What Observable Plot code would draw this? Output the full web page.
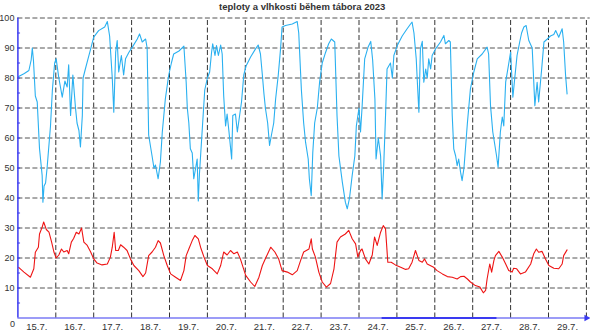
<!DOCTYPE html>
<html><head><meta charset="utf-8">
<script src="https://cdn.jsdelivr.net/npm/d3@7"></script>
<script src="https://cdn.jsdelivr.net/npm/@observablehq/plot@0.6"></script>
<style>body{margin:0;background:#fff} #chart svg{display:block}</style>
</head><body><div id="chart"></div>
<script>
const title = "teploty a vlhkosti během tábora 2023";
const dayLabels = ["15.7.","16.7.","17.7.","18.7.","19.7.","20.7.","21.7.","22.7.","23.7.","24.7.","25.7.","26.7.","27.7.","28.7.","29.7."];
const dayTicks = [15.5,16.5,17.5,18.5,19.5,20.5,21.5,22.5,23.5,24.5,25.5,26.5,27.5,28.5,29.5];
const gridDays = [16,17,18,19,20,21,22,23,24,25,26,27,28,29,30];
const gridValues = [10,20,30,40,50,60,70,80,90,100];
const yLabels = [10,20,30,40,50,60,70,80,90,100];
const minorTicks = [5,10,15,20,25,30,35,40,45,50,55,60,65,70,75,80,85,90,95];
const zeroSegment = [24.61, 27.64];

// relative humidity (%) — time in days of July
const humTime = [15.02,15.17,15.29,15.35,15.38,15.41,15.46,15.51,15.57,15.64,15.66,15.69,15.73,15.77,15.86,15.91,15.97,16.01,16.08,16.17,16.24,16.30,16.34,16.39,16.45,16.52,16.56,16.61,16.65,16.70,16.72,16.78,16.85,16.92,17.00,17.13,17.29,17.36,17.42,17.49,17.53,17.58,17.62,17.66,17.73,17.79,17.84,17.93,18.02,18.15,18.21,18.28,18.37,18.41,18.45,18.54,18.59,18.63,18.70,18.76,18.81,18.89,18.98,19.05,19.11,19.25,19.38,19.44,19.47,19.51,19.55,19.60,19.64,19.69,19.73,19.76,19.79,19.86,19.93,20.00,20.06,20.11,20.14,20.20,20.24,20.29,20.35,20.39,20.43,20.48,20.52,20.57,20.64,20.67,20.74,20.79,20.85,20.90,20.96,21.02,21.14,21.27,21.34,21.40,21.45,21.49,21.53,21.59,21.64,21.69,21.75,21.80,21.87,21.93,21.97,22.06,22.24,22.37,22.41,22.48,22.54,22.59,22.66,22.69,22.74,22.78,22.83,22.90,22.96,23.03,23.12,23.20,23.27,23.36,23.42,23.47,23.56,23.64,23.69,23.75,23.82,23.89,23.93,24.00,24.04,24.08,24.15,24.24,24.31,24.36,24.42,24.45,24.51,24.57,24.61,24.65,24.70,24.74,24.83,24.88,24.92,25.01,25.14,25.27,25.36,25.40,25.45,25.51,25.54,25.58,25.62,25.67,25.71,25.76,25.80,25.84,25.89,25.93,26.02,26.15,26.24,26.28,26.37,26.41,26.46,26.50,26.55,26.59,26.63,26.68,26.72,26.77,26.86,26.94,27.03,27.12,27.25,27.38,27.42,27.47,27.53,27.58,27.63,27.67,27.73,27.78,27.82,27.87,27.94,28.00,28.06,28.11,28.17,28.24,28.29,28.35,28.41,28.48,28.57,28.64,28.70,28.74,28.82,28.88,28.97,29.05,29.14,29.19,29.27,29.36,29.40,29.45,29.49];
const humValue = [80.5,81.5,82.5,86,90,86,74,72,56.5,47.5,38.6,44,45,50,64,76,85,86.4,80,73.6,79,77,84.4,67.5,81,70,65,62.5,57,67.5,80,83,86.4,89.7,93.6,95.8,97,98.8,94,80,68.6,88.6,92.5,82,87.5,81,86.4,88.6,90.3,93,94.7,92,93,90,61,54,50,51,46.4,52,62,73,81,85,88,89,90.6,78.6,70,65,56.4,55,46.4,50,53,39,48,62,76,80,82,88.6,91.4,87.5,90.8,87.5,91,88,74,64,68,62,53,67.5,68,62,67.5,72,81,84,87,89.7,91,88,81,75,70,65,57.5,61,65,73,81,89.7,97,97.5,98,98.8,95,76,65,58.6,53,46.4,40.8,55,65,70,78.6,85,88.6,91.4,93,92,67.5,54,45.3,38.6,36.4,40,47.5,54,64,70,62,70,86.4,90.3,92.2,86,73,53,60,54,39.7,50,67.5,83,85,80,87.5,90.8,94,96.4,98,98.6,95,86.4,78.6,68.6,89.7,92.2,78.6,83,80,86.4,83,87.5,89.7,92,94.2,91.4,92.5,92,67.5,56.4,54,50.8,53,48.6,45.8,50,65,76.4,82,86.4,88,90.3,88,70.8,62,58,54,50.3,62,67,64,78.6,84,88.6,73.6,80,87.5,92,95,97,97.5,92.5,90,70.8,78.6,72,83,92,93,94,94.5,95.8,93.6,96.4,92,81,74.7];

// temperature (°C)
const tempTime = [15.02,15.16,15.33,15.42,15.46,15.54,15.57,15.64,15.68,15.75,15.82,15.89,15.95,16.01,16.08,16.15,16.21,16.30,16.34,16.41,16.47,16.54,16.61,16.68,16.74,16.83,16.92,17.00,17.09,17.22,17.36,17.44,17.49,17.54,17.58,17.65,17.71,17.79,17.88,17.97,18.06,18.19,18.30,18.37,18.45,18.54,18.63,18.70,18.76,18.85,18.94,19.03,19.16,19.29,19.38,19.44,19.51,19.60,19.67,19.76,19.82,19.91,20.00,20.13,20.26,20.35,20.43,20.52,20.61,20.70,20.79,20.87,21.01,21.14,21.25,21.36,21.45,21.55,21.67,21.78,21.88,21.97,22.11,22.24,22.37,22.46,22.54,22.68,22.74,22.77,22.85,22.94,23.03,23.14,23.25,23.34,23.42,23.51,23.64,23.73,23.82,23.91,23.97,24.04,24.08,24.17,24.26,24.35,24.41,24.48,24.57,24.64,24.70,24.76,24.85,24.96,25.10,25.23,25.31,25.40,25.49,25.58,25.67,25.73,25.80,25.97,26.06,26.20,26.33,26.46,26.59,26.68,26.77,26.86,26.94,27.07,27.19,27.28,27.34,27.38,27.45,27.50,27.56,27.60,27.69,27.78,27.87,27.95,28.04,28.08,28.16,28.26,28.39,28.53,28.61,28.68,28.74,28.83,28.92,29.01,29.14,29.27,29.36,29.40,29.49];
const tempValue = [16.9,15.3,13.6,16.4,21.9,23.6,28,30.3,32,29.5,28.6,25.3,22,20,21,23,22,22.5,21.4,25.3,26.5,28.6,28,30,25.3,24.2,22,19.7,18.3,17.7,18,20.3,23.6,28.6,22.5,22.5,24.4,23.6,22.5,19.7,17.5,15.8,13.8,15,20.8,22,23.6,25.8,25,20.8,17.5,14.7,13.6,12.5,15.8,20.8,23,25.8,27.5,26.4,23.6,20.3,17.5,16.4,14.7,17.5,22,21,22.5,21.4,22,19.7,14.2,12,10.5,13.6,17.5,20.3,23.6,22,19.7,15.8,15.3,14.4,15.8,19.2,22,23,26.4,23,20.3,15.3,12,10.3,11.5,16.4,25.3,27,28,29.2,26.4,24.7,20.3,22.5,23,19.7,18,21,27,24.2,28.6,30.8,29.7,18.6,18.6,17.7,16.9,16.2,16.4,18.6,22.5,19.2,18.6,19.7,18,16.9,15.8,14.7,13.8,13.6,13,13.8,13.9,13,12,10.8,10.3,8.4,9.2,13,18,15.3,19.2,20.8,22.2,20.3,18,15.8,15.3,16.6,16.4,14.7,15.3,18,21.4,23,21.9,22.2,19.7,17.5,16.6,16.4,18,20.8,22.7];

const humidity = humTime.map((t, i) => ({t, v: humValue[i]}));
const temperature = tempTime.map((t, i) => ({t, v: tempValue[i]}));
const axisBlue = "#3a3af0";

const chart = Plot.plot({
  width: 590, height: 333,
  marginLeft: 17.4, marginRight: 4.1, marginTop: 17.5, marginBottom: 15.5,
  style: {fontFamily: "'Liberation Sans', Arial, sans-serif", background: "#fff", overflow: "visible"},
  x: {domain: [15, 30]},
  y: {domain: [0, 100]},
  marks: [
    Plot.ruleY(gridValues, {x1: 15, x2: 30.1, stroke: "#555", strokeDasharray: "5,2.5", strokeWidth: 1}),
    Plot.ruleX(gridDays, {y1: 0, y2: 100, stroke: "#333", strokeDasharray: "5,2.5", strokeWidth: 1}),
    Plot.line(humidity, {x: "t", y: "v", stroke: "#2ab0f0", strokeWidth: 1.1}),
    Plot.line(temperature, {x: "t", y: "v", stroke: "#ee1414", strokeWidth: 1.1}),
    Plot.ruleX([15], {y1: 0, y2: 100, stroke: axisBlue, strokeWidth: 1.5}),
    Plot.ruleY(minorTicks, {x1: 15, x2: 15.07, stroke: axisBlue}),
    Plot.ruleY([0], {x1: 15, x2: 30, stroke: axisBlue, strokeWidth: 1.2}),
    Plot.ruleY([0], {x1: zeroSegment[0], x2: zeroSegment[1], stroke: axisBlue, strokeWidth: 2}),
    Plot.dot([30], {x: d => d, y: () => 0, symbol: "triangle", rotate: 90, r: 2.5, fill: axisBlue, stroke: null}),
    Plot.axisX(dayTicks, {tickSize: 0, tickPadding: 5.5, tickFormat: d => dayLabels[dayTicks.indexOf(d)], fontSize: 9.5, color: "#333", label: null}),
    Plot.axisY(yLabels, {tickSize: 0, tickPadding: 3.5, fontSize: 9, color: "#333", label: null}),
    Plot.axisY([0], {tickSize: 0, tickPadding: 3, dy: 6, fontSize: 9, color: "#333", label: null}),
    Plot.text([title], {frameAnchor: "top", lineAnchor: "middle", dy: -11.5, fontWeight: "bold", fontSize: 9.5, fill: "#333"})
  ]
});
document.getElementById("chart").append(chart);
</script>
</body></html>
